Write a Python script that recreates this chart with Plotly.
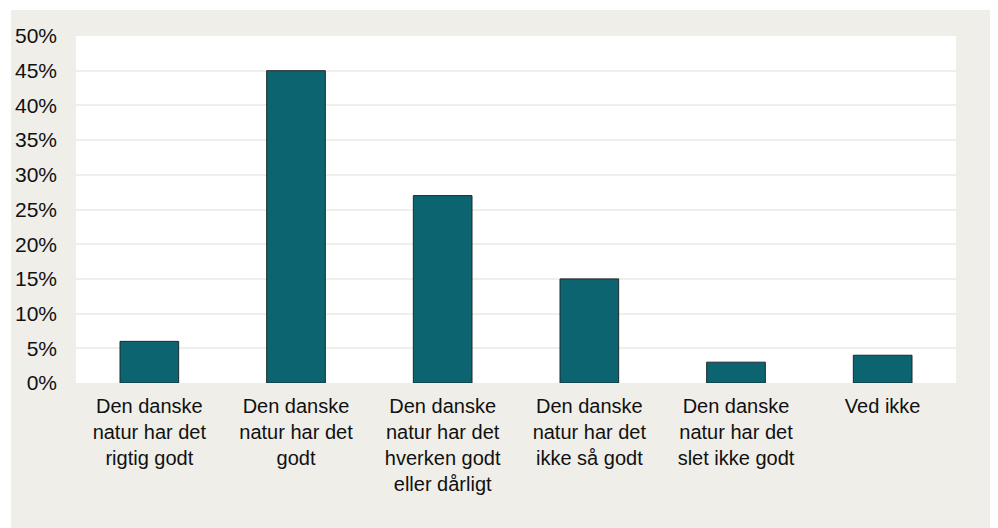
import plotly.graph_objects as go

# Svarkategorier og andele (%)
kategorier = [
    "Den danske<br>natur har det<br>rigtig godt",
    "Den danske<br>natur har det<br>godt",
    "Den danske<br>natur har det<br>hverken godt<br>eller dårligt",
    "Den danske<br>natur har det<br>ikke så godt",
    "Den danske<br>natur har det<br>slet ikke godt",
    "Ved ikke",
]
andele = [6, 45, 27, 15, 3, 4]

y_ticks = [0, 5, 10, 15, 20, 25, 30, 35, 40, 45, 50]
y_labels = [f"{v}%" for v in y_ticks]

BEIGE = "#efeee8"
TEAL = "#0b6470"

fig = go.Figure()
fig.add_trace(go.Bar(
    x=kategorier,
    y=andele,
    marker=dict(color=TEAL, line=dict(color="#1c2b2d", width=1)),
    hoverinfo="x+y",
))

W, H = 990, 520
ml, mr, mt, mb = 68, 42, 28, 145
pw = W - ml - mr
ph = H - mt - mb

# beige baggrund og hvidt plotområde som shapes
fig.add_shape(type="rect", xref="paper", yref="paper", layer="below",
              x0=(3 - ml) / pw, x1=(W - ml) / pw,
              y0=-(H - mt - ph) / ph - 0.01, y1=(ph + mt - 2) / ph,
              fillcolor=BEIGE, line_width=0)
fig.add_shape(type="rect", xref="paper", yref="paper", layer="below",
              x0=0, x1=1, y0=0, y1=1,
              fillcolor="white", line_width=0)

fig.update_layout(
    width=W, height=H,
    margin=dict(l=ml, r=mr, t=mt, b=mb, autoexpand=False),
    paper_bgcolor="white",
    plot_bgcolor="white",
    bargap=0.6,
    showlegend=False,
    font=dict(family="Liberation Sans, Arial, sans-serif", size=21, color="#111111"),
)
fig.update_xaxes(showgrid=False, showline=False, ticks="", zeroline=False,
                 tickangle=0, tickfont=dict(size=20), ticklabelstandoff=9,
                 automargin=False)
fig.update_yaxes(range=[0, 50], tickvals=y_ticks, ticktext=y_labels,
                 showgrid=True, gridcolor=BEIGE, gridwidth=2,
                 zeroline=False, showline=False, ticks="",
                 ticklabelstandoff=18, tickfont=dict(size=21),
                 automargin=False)

fig.write_html("out.html")
